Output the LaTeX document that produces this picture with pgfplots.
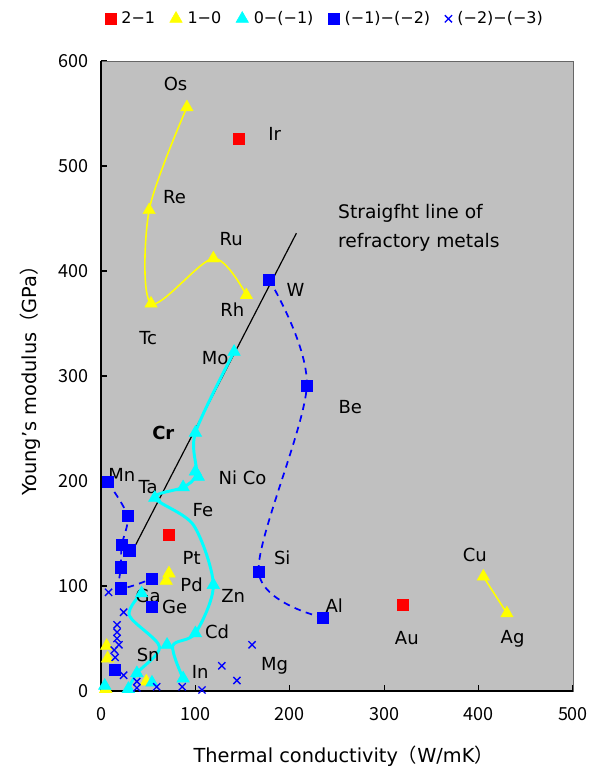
\documentclass[border=0pt]{standalone}
\usepackage{fontspec}
\setmainfont{DejaVu Sans}
\newfontfamily\cjk{Noto Sans CJK JP}
\usepackage{pgfplots}
\pgfplotsset{compat=1.18}
\definecolor{bg}{HTML}{C0C0C0}
\definecolor{rd}{HTML}{FF0000}
\definecolor{ylw}{HTML}{FFFF00}
\definecolor{cyn}{HTML}{00FFFF}
\definecolor{blu}{HTML}{0000FF}
\tikzset{
  lab/.style={font=\fontsize{13.5}{15}\selectfont, inner sep=0pt},
  sq/.style={mark=square*, mark size=4.2pt},
  tri/.style={mark=triangle*, mark size=5.4pt},
  crs/.style={mark=x, mark size=3.8pt},
}
\pgfplotsset{dotleg/.style={legend image code/.code={\draw[##1] plot coordinates {(0pt,0pt)};}}}
\begin{document}
\begin{tikzpicture}
\path[use as bounding box] (-75.75pt,-58.5pt) rectangle (378.75pt,518.25pt);
\begin{axis}[
  scale only axis, width=354pt, height=472.5pt,
  xmin=0, xmax=500, ymin=0, ymax=600,
  xtick={0,100,...,500}, ytick={0,100,...,600},
  tick pos=left, tick align=inside, major tick length=4.5pt,
  tick style={black, line width=0.8pt},
  axis background/.style={fill=bg},
  axis line style={draw=black!60, line width=0.6pt},
  /pgf/number format/assume math mode=true,
  ticklabel style={font=\cjk\fontsize{13.5}{15}\selectfont},
  xticklabel style={yshift=-9pt},
  yticklabel style={xshift=-6pt},
  xlabel={Thermal conductivity{\cjk（}W/mK{\cjk）}},
  ylabel={Young's modulus{\cjk（}GPa{\cjk）}},
  label style={font=\fontsize{14.5}{16}\selectfont},
  xlabel style={at={([yshift=-49pt,xshift=5pt]rel axis cs:0.5,0)}, anchor=center},
  ylabel style={at={([xshift=-53pt]rel axis cs:0,0.5)}, anchor=center},
  clip=false,
  legend columns=5,
  legend style={at={(0.475,1.067)}, anchor=center, draw=none, fill=none,
    font=\fontsize{12}{14}\selectfont,
    /tikz/every odd column/.append style={column sep=2pt},
    /tikz/every even column/.append style={column sep=9pt}},
]
% legend entries
\addlegendimage{dotleg, sq, color=rd}
\addlegendentry{2−1}
\addlegendimage{dotleg, tri, color=ylw}
\addlegendentry{1−0}
\addlegendimage{dotleg, tri, color=cyn}
\addlegendentry{0−(−1)}
\addlegendimage{dotleg, sq, color=blu}
\addlegendentry{(−1)−(−2)}
\addlegendimage{dotleg, crs, color=blu, line width=1pt}
\addlegendentry{(−2)−(−3)}

% black straight line
\addplot[black, line width=0.9pt, forget plot] coordinates {(32,131) (207,436)};

% yellow curve Os-Re-Tc-Ru-Rh
\addplot[ylw, smooth, line width=1.2pt, tri, mark options={solid, line width=0.3pt, fill=ylw}, forget plot]
  coordinates {(91,556) (51,458) (53,369) (119,412) (154,377)};
% yellow Cu-Ag
\addplot[ylw, line width=1.2pt, tri, mark options={solid, line width=0.3pt, fill=ylw}, forget plot]
  coordinates {(405,109) (430,74)};
% yellow single points
\addplot[only marks, ylw, tri, forget plot]
  coordinates {(6,43) (7,31) (5,2) (48,9) (69,105) (72,112)};

% blue dashed curves
\addplot[blu, smooth, dashed, dash pattern=on 5pt off 4pt, line width=1.3pt, sq, mark options={solid, line width=0.3pt, fill=blu}, forget plot]
  coordinates {(178,392) (218,291) (167,114) (235,70)};
\addplot[blu, smooth, dashed, dash pattern=on 5pt off 4pt, line width=1.3pt, sq, mark options={solid, line width=0.3pt, fill=blu}, forget plot]
  coordinates {(7,199) (28,167) (22,139) (21,118) (21,98) (54,107)};
\addplot[only marks, blu, sq, forget plot]
  coordinates {(30,134) (54,80) (15,20)};

% cyan curves (lines)
\addplot[cyn, smooth, line width=2.2pt, forget plot]
  coordinates {(141,323) (100,246) (101,207) (87,194) (57,184) (98,158) (119,101) (100,55) (76,43) (87,12)};
\addplot[cyn, smooth, line width=2.2pt, forget plot]
  coordinates {(43,93) (30,72) (62,42) (38,17) (29,2)};
% cyan markers
\addplot[only marks, cyn, tri, forget plot]
  coordinates {(141,323) (100,246) (100,209) (103,204) (87,194) (57,184) (119,101) (100,55) (70,44) (87,12)
               (43,93) (38,17) (29,2) (4,5) (54,8)};

% red squares
\addplot[only marks, rd, sq, forget plot]
  coordinates {(146,526) (72,149) (320,82)};

% blue crosses
\addplot[only marks, blu, crs, line width=1pt, forget plot]
  coordinates {(8,94) (24,75) (17,63) (17,56) (17,50) (19,44) (14,39) (15,32) (24,15) (38,9) (38,3) (59,4) (86,4) (107,1) (128,24) (144,10) (160,44)};

% frame left & bottom
\draw[black, line width=1.5pt] (rel axis cs:0,1) -- (rel axis cs:0,0) -- (rel axis cs:1,0);

% labels
\node[lab] at (79,578) {Os};
\node[lab] at (184,531) {Ir};
\node[lab] at (78,470) {Re};
\node[lab] at (138,430) {Ru};
\node[lab] at (139,363) {Rh};
\node[lab] at (206,382) {W};
\node[lab] at (50,336) {Tc};
\node[lab] at (121,317) {Mo};
\node[lab] at (264,270) {Be};
\node[lab] at (66,246) {\textbf{Cr}};
\node[lab] at (22,206) {Mn};
\node[lab] at (50,194) {Ta};
\node[lab] at (150,203) {Ni Co};
\node[lab] at (108,172) {Fe};
\node[lab] at (96,127) {Pt};
\node[lab] at (192,127) {Si};
\node[lab] at (96,101) {Pd};
\node[lab] at (50,91) {Ga};
\node[lab] at (78,80) {Ge};
\node[lab] at (140,91) {Zn};
\node[lab] at (247,81) {Al};
\node[lab] at (396,130) {Cu};
\node[lab] at (324,50) {Au};
\node[lab] at (436,50) {Ag};
\node[lab] at (123,56) {Cd};
\node[lab] at (50,34) {Sn};
\node[lab] at (105,18) {In};
\node[lab] at (184,24) {Mg};
\node[lab, font=\fontsize{14}{16}\selectfont, anchor=west] at (251,455) {Straigfht line of};
\node[lab, font=\fontsize{14}{16}\selectfont, anchor=west] at (251,427) {refractory metals};
\end{axis}
\end{tikzpicture}
\end{document}
